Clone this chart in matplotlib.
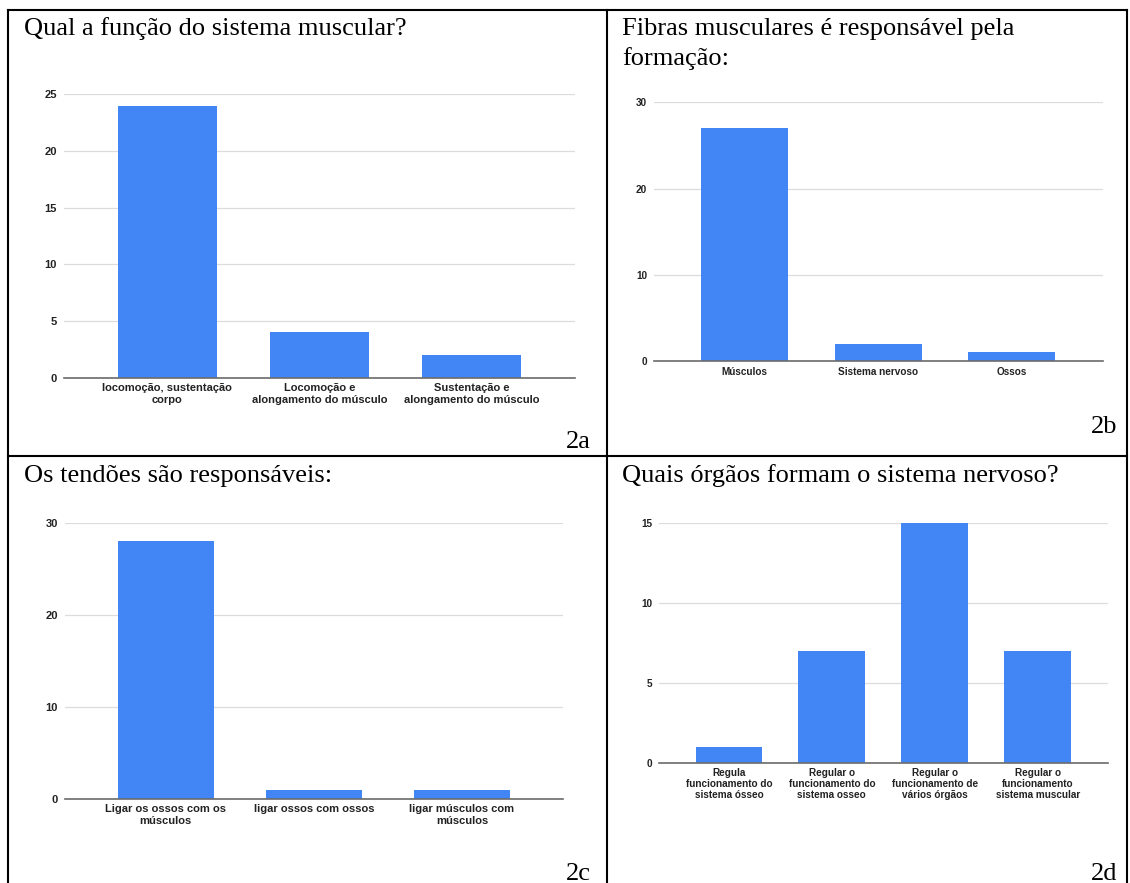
"""Four survey bar charts laid out in a bordered 2x2 table."""

import matplotlib
matplotlib.use("Agg")
import matplotlib.pyplot as plt
from matplotlib.lines import Line2D

W, H = 1130, 883
BAR_COLOR = "#4285f4"
GRID_COLOR = "#dcdcdc"
BASE_COLOR = "#6b6b6b"
TEXT_COLOR = "#222222"
SERIF = ["Liberation Serif", "DejaVu Serif"]
SANS = ["Liberation Sans", "DejaVu Sans"]

# panel 2a
titles_a = "Qual a função do sistema muscular?"
cats_a = ["locomoção, sustentação\ncorpo",
          "Locomoção e\nalongamento do músculo",
          "Sustentação e\nalongamento do músculo"]
vals_a = [24, 4, 2]
yticks_a = [0, 5, 10, 15, 20, 25]

# panel 2b
titles_b = "Fibras musculares é responsável pela\nformação:"
cats_b = ["Músculos", "Sistema nervoso", "Ossos"]
vals_b = [27, 2, 1]
yticks_b = [0, 10, 20, 30]

# panel 2c
titles_c = "Os tendões são responsáveis:"
cats_c = ["Ligar os ossos com os\nmúsculos",
          "ligar ossos com ossos",
          "ligar músculos com\nmúsculos"]
vals_c = [28, 1, 1]
yticks_c = [0, 10, 20, 30]

# panel 2d
titles_d = "Quais órgãos formam o sistema nervoso?"
cats_d = ["Regula\nfuncionamento do\nsistema ósseo",
          "Regular o\nfuncionamento do\nsistema osseo",
          "Regular o\nfuncionamento de\nvários órgãos",
          "Regular o\nfuncionamento\nsistema muscular"]
vals_d = [1, 7, 15, 7]
yticks_d = [0, 5, 10, 15]


def px_axes(fig, left, top, right, bottom):
    """Add axes given pixel box measured from the top-left corner."""
    return fig.add_axes([left / W, 1 - bottom / H,
                         (right - left) / W, (bottom - top) / H])


def bar_panel(ax, cats, vals, yticks, fs, ls):
    n = len(cats)
    ax.bar(range(n), vals, width=0.65, color=BAR_COLOR, zorder=2)
    ax.set_xlim(-0.68, n - 1 + 0.68)
    ax.set_ylim(0, yticks[-1])
    ax.set_yticks(yticks)
    ax.set_xticks(range(n))
    ax.set_xticklabels(cats, fontsize=fs, fontweight="bold", family=SANS,
                       color=TEXT_COLOR, linespacing=ls)
    ax.set_yticklabels([str(t) for t in yticks], fontsize=fs,
                       fontweight="bold", family=SANS, color=TEXT_COLOR)
    ax.tick_params(axis="both", length=0)
    ax.tick_params(axis="x", pad=4)
    ax.tick_params(axis="y", pad=5)
    ax.grid(axis="y", color=GRID_COLOR, linewidth=0.9, zorder=0)
    ax.set_axisbelow(True)
    for side in ("top", "right", "left"):
        ax.spines[side].set_visible(False)
    ax.spines["bottom"].set_color(BASE_COLOR)
    ax.spines["bottom"].set_linewidth(1.2)
    ax.spines["bottom"].set_zorder(3)


def fig_text(fig, x, y, s, ha="left"):
    fig.text(x / W, 1 - y / H, s, ha=ha, va="baseline", fontsize=19,
             family=SERIF, color="black")


fig = plt.figure(figsize=(W / 100, H / 100), dpi=100)

ax_a = px_axes(fig, 64, 94.3, 575, 377.7)
bar_panel(ax_a, cats_a, vals_a, yticks_a, 8.0, 1.2)

ax_b = px_axes(fig, 654, 102.3, 1102.5, 361)
bar_panel(ax_b, cats_b, vals_b, yticks_b, 7.2, 1.1)

ax_c = px_axes(fig, 65, 522.7, 562.6, 798.7)
bar_panel(ax_c, cats_c, vals_c, yticks_c, 8.0, 1.2)

ax_d = px_axes(fig, 659, 523.3, 1107.6, 762.7)
bar_panel(ax_d, cats_d, vals_d, yticks_d, 7.2, 1.08)

# cell titles (first-line baselines) and panel labels
title_b1, title_b2 = titles_b.split("\n")
fig_text(fig, 23.5, 35, titles_a)
fig_text(fig, 622, 35, title_b1)
fig_text(fig, 622, 65, title_b2)
fig_text(fig, 23.5, 481.5, titles_c)
fig_text(fig, 622, 481.5, titles_d)

fig_text(fig, 591, 448, "2a", ha="right")
fig_text(fig, 1117, 433, "2b", ha="right")
fig_text(fig, 591, 880, "2c", ha="right")
fig_text(fig, 1117, 880, "2d", ha="right")

# table borders
border = dict(color="black", linewidth=1.5, solid_capstyle="projecting")
for (x0, y0, x1, y1) in [(8, 10, 1127, 10), (8, 456, 1127, 456),
                         (8, 10, 8, 883), (607, 10, 607, 883),
                         (1127, 10, 1127, 883)]:
    fig.add_artist(Line2D([x0 / W, x1 / W], [1 - y0 / H, 1 - y1 / H],
                          transform=fig.transFigure, **border))

fig.savefig("out.png", dpi=100)
